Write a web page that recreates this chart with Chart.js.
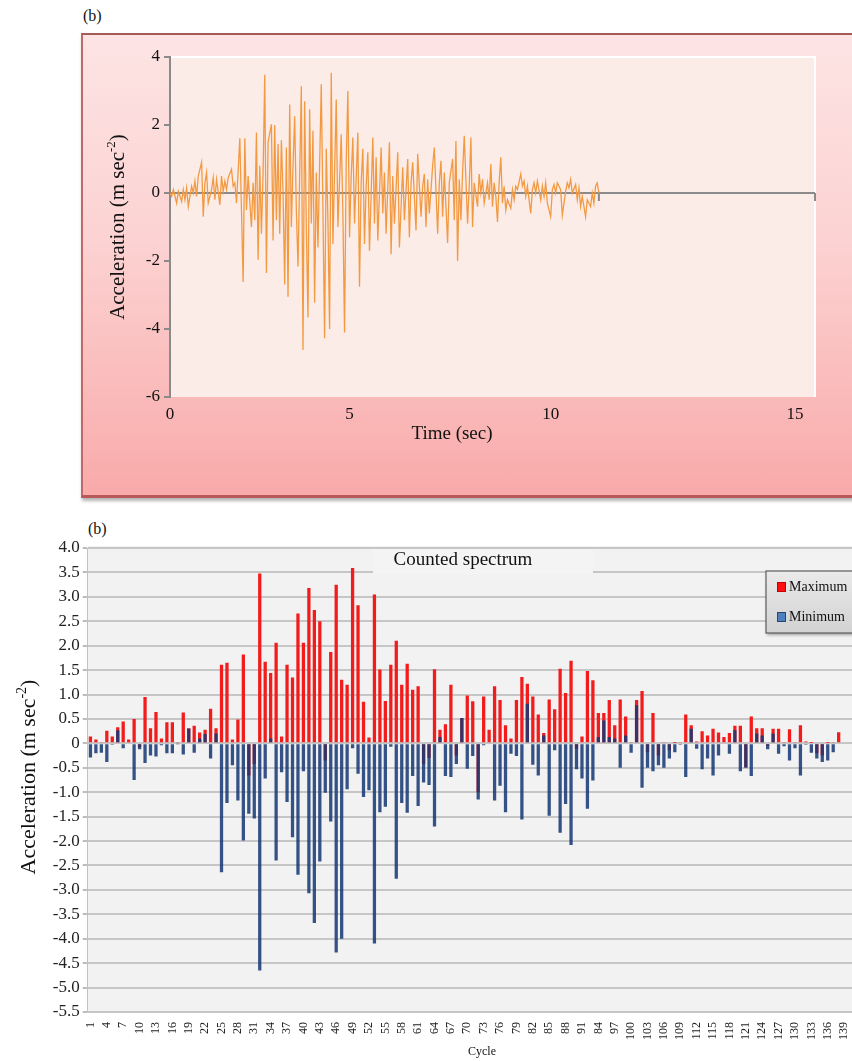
<!DOCTYPE html>
<html>
<head>
<meta charset="utf-8">
<script src="https://cdn.jsdelivr.net/npm/chart.js@4.4.1/dist/chart.umd.min.js"></script>
<style>
  html, body { margin: 0; padding: 0; width: 852px; height: 1061px; overflow: hidden; background: #fff; }
  #frame {
    position: absolute; left: 81px; top: 33px; width: 820px; height: 460px;
    background: linear-gradient(180deg, #fde4e4 0%, #fcd2d2 45%, #f9aaaa 100%);
    border-top: 2px solid #a65a55; border-left: 2px solid #c26868; border-bottom: 3px solid #b85858;
    box-shadow: 1px 3px 3px rgba(90, 90, 90, 0.45);
  }
  .tag { position: absolute; font-family: "Liberation Serif", serif; font-size: 16px; color: #111; line-height: 1; }
  #topWrap { position: absolute; left: 0; top: 0; width: 852px; height: 500px; }
  #botWrap { position: absolute; left: 0; top: 510px; width: 866px; height: 551px; }
</style>
</head>
<body>
<div id="frame"></div>
<div class="tag" style="left:83px; top:8px;">(b)</div>
<div class="tag" style="left:88px; top:521px;">(b)</div>
<div id="topWrap"><canvas id="accTrace"></canvas></div>
<div id="botWrap"><canvas id="cycleBars"></canvas></div>

<script>
// ---------- Ground-motion record (upper panel) ----------
// sample number of each turning point of the record, and its acceleration (m/s^2)
const traceAt = [
  0,1,2,4,5,7,8,9,10,11,13,14,15,16,17,19,20,21,22,23,25,26,27,28,30,31,32,33,34,35,
  37,38,39,40,42,44,45,46,47,49,50,51,52,53,54,55,56,57,58,59,61,62,63,64,65,66,67,68,69,70,
  71,72,73,74,75,76,77,78,79,80,81,82,83,84,85,86,87,88,89,91,92,93,94,95,96,97,98,100,101,103,
  104,105,106,107,108,109,110,111,113,114,115,116,117,118,119,120,122,123,124,125,127,128,129,130,132,133,134,135,137,138,
  140,141,143,144,145,146,148,149,151,152,153,154,155,156,158,159,161,162,163,164,165,166,167,168,170,171,172,173,174,175,
  176,177,179,180,181,182,183,185,186,187,188,189,191,192,193,194,195,196,197,198,199,200,201,202,203,205,206,207,208,209,
  211,212,213,214,215,217,218,219,220,221,223,224,225,226,227,229,230,231,232,233,235,236,238,239,240,241,242,244,245,246,
  247,248,250,251,253,254,255,256,257,258
];
const traceAcc = [
  0,-0.1,0.1,-0.3,0.05,-0.25,0.1,-0.2,0.15,-0.4,0.2,0,0.35,-0.1,0.5,0.9,-0.7,0.3,0.6,-0.3,0.1,0.45,-0.2,0.4,-0.35,0.5,0.05,0.35,0.1,0.45,
  0.7,0.2,0.3,-0.3,1.61,-2.62,1.61,-0.5,0.5,-1.0,0.3,-0.8,1.78,-1.96,0.8,-1.2,0.6,3.48,-2.35,1.5,2.02,-1.4,2.0,-0.8,1.44,-1.2,1.55,0.0,-2.69,1.34,
  -3.05,2.6,-1.0,0.8,2.26,-0.5,-2.16,0.5,3.14,-4.62,2.7,-1.0,-3.66,2.46,-0.9,1.83,-3.23,0.6,-1.6,3.2,-0.5,-4.27,1.3,-0.8,-4.0,3.54,-1.5,2.75,-1.0,1.73,
  -0.6,-4.1,0.9,3.0,-1.3,0.5,1.63,-0.9,1.78,-2.76,0.3,1.3,-1.5,0.2,1.2,-1.7,1.63,-0.9,1.05,-1.4,1.34,-0.6,0.6,-1.2,1.49,-1.8,0.5,-0.9,1.2,-1.6,
  0.76,-0.8,1.0,-1.3,0.3,0.9,-1.1,1.15,-0.7,0.2,0.56,-1.0,0.4,-0.6,0.8,1.34,-1.2,0.3,0.95,-0.7,0.6,-0.4,-1.47,0.3,1.0,-0.8,1.53,-2.0,0.4,-0.8,
  0.6,1.68,-0.9,0.2,1.63,-1.0,0.3,-0.4,0.56,0.0,0.4,-0.3,0.3,-0.2,0.85,-0.4,0.3,-0.1,-0.85,0.3,1.05,-0.3,0.2,-0.5,-0.2,-0.45,0.1,-0.2,0.2,0.1,
  0.56,0.2,0.35,-0.1,0.2,-0.6,0.1,0.3,0.0,0.35,-0.2,0.2,-0.1,0.3,-0.3,-0.7,0.1,0.25,0.0,0.3,0.1,-0.65,0.05,0.3,0.15,0.4,0.0,0.25,-0.2,0.15,
  -0.4,-0.1,-0.7,-0.2,-0.4,0.0,-0.3,0.2,0.3,0.0
];
const sampleAxisMax = 388;
const sampleTickAt = [0, 108, 229, 376];
const timeTickLabels = ['0', '5', '10', '15'];

// ---------- Counted spectrum (lower panel) ----------
const cycles = Array.from({ length: 140 }, (_, i) => String(i + 1));
const cycleTickText = ['1','4','7','10','13','16','19','22','25','28','31','34','37','40','43','46','49','52','55','58',
  '61','64','67','70','73','76','79','82','85','88','91','84','97','100','103','106','109','112','115','118',
  '121','124','127','130','133','136','139'];
const maxVals = [
  0.14,0.08,0.02,0.26,0.14,0.33,0.45,0.08,0.50,-0.08,
  0.95,0.31,0.64,0.10,0.43,0.43,0.03,0.63,0.31,0.36,
  0.22,0.28,0.71,0.31,1.61,1.65,0.08,0.49,1.82,-0.66,
  -0.42,3.48,1.67,1.44,2.06,0.14,1.61,1.35,2.66,2.06,
  3.18,2.73,2.50,-0.35,1.87,3.25,1.30,1.20,3.59,2.83,
  0.85,0.12,3.05,1.51,0.87,1.61,2.10,1.20,1.63,1.10,
  1.17,-0.42,-0.30,1.52,0.28,0.39,1.20,-0.25,0.52,0.98,
  0.86,-1.00,0.96,0.28,1.17,0.89,0.37,0.10,0.89,1.36,
  1.22,0.96,0.59,0.21,0.90,0.70,1.53,1.03,1.69,-0.11,
  0.14,1.48,1.29,0.62,0.62,0.89,0.37,0.90,0.55,0.03,
  0.89,1.07,-0.18,0.62,-0.25,0.02,-0.14,0.01,0.02,0.59,
  0.37,0.04,0.25,0.16,0.30,0.22,0.13,0.21,0.36,0.36,
  -0.49,0.55,0.31,0.31,-0.05,0.30,0.30,0.02,0.29,0.02,
  0.37,0.04,0.01,-0.20,-0.25,0.01,0.03,0.23,null,null
];
const minVals = [
  -0.29,-0.20,-0.19,-0.38,-0.03,0.27,-0.10,-0.02,-0.75,-0.12,
  -0.40,-0.25,-0.27,-0.04,-0.20,-0.20,-0.01,-0.23,0.30,-0.19,
  0.10,0.19,-0.31,0.20,-2.64,-1.22,-0.45,-1.17,-1.99,-1.44,
  -1.54,-4.65,-0.72,0.10,-2.40,-0.59,-1.20,-1.92,-2.69,-0.57,
  -3.07,-3.68,-2.42,-1.01,-1.60,-4.28,-4.00,-0.94,-0.10,-0.62,
  -1.10,-0.96,-4.10,-1.41,-1.30,-0.07,-2.77,-1.22,-1.42,-0.67,
  -1.28,-0.80,-0.85,-1.70,0.13,-0.67,-0.69,-0.42,0.52,-0.52,
  -0.26,-1.15,-0.04,-0.02,-1.17,-0.87,-1.41,-0.21,-0.26,-1.56,
  0.81,-0.44,-0.66,0.16,-1.48,-0.14,-1.83,-1.24,-2.08,-0.53,
  -0.72,-1.34,-0.76,0.13,0.47,0.13,0.10,-0.50,0.16,-0.19,
  0.78,-0.91,-0.50,-0.57,-0.45,-0.50,-0.31,-0.18,-0.03,-0.69,
  0.30,-0.11,-0.53,-0.31,-0.66,-0.25,-0.02,-0.21,0.27,-0.57,
  -0.50,-0.67,0.20,0.16,-0.12,0.20,-0.21,-0.06,-0.35,-0.10,
  -0.66,-0.03,-0.19,-0.31,-0.38,-0.35,-0.18,-0.02,null,null
];

const SERIF = '"Liberation Serif", "Times New Roman", serif';

// vertical axis title with the "-2" exponent raised
function drawAccelTitle(ctx, cx, cy, size) {
  const main = 'Acceleration (m sec', sup = '-2', tail = ')';
  ctx.save();
  ctx.translate(cx, cy);
  ctx.rotate(-Math.PI / 2);
  ctx.fillStyle = '#111';
  ctx.textBaseline = 'alphabetic';
  ctx.textAlign = 'left';
  const big = size + 'px ' + SERIF, small = Math.round(size * 0.62) + 'px ' + SERIF;
  ctx.font = big; const w1 = ctx.measureText(main).width; const w3 = ctx.measureText(tail).width;
  ctx.font = small; const w2 = ctx.measureText(sup).width;
  let x = -(w1 + w2 + w3) / 2;
  ctx.font = big; ctx.fillText(main, x, 0); x += w1;
  ctx.font = small; ctx.fillText(sup, x, -size * 0.42); x += w2;
  ctx.font = big; ctx.fillText(tail, x, 0);
  ctx.restore();
}

// ---------- upper panel ----------
const tracePanel = {
  id: 'tracePanel',
  beforeDraw(chart) {
    const { ctx, chartArea: a } = chart;
    ctx.save();
    ctx.fillStyle = '#fcece8';
    ctx.fillRect(a.left, a.top, a.right - a.left, a.bottom - a.top);
    ctx.strokeStyle = '#ffffff';
    ctx.lineWidth = 2;
    ctx.beginPath();
    ctx.moveTo(a.left, a.top); ctx.lineTo(a.right, a.top); ctx.lineTo(a.right, a.bottom);
    ctx.stroke();
    ctx.restore();
  },
  afterDraw(chart) {
    const { ctx, chartArea: a, scales } = chart;
    const y0 = scales.y.getPixelForValue(0);
    ctx.save();
    ctx.strokeStyle = '#8a8a8a';
    ctx.lineWidth = 2;
    const ends = [scales.x.getPixelForValue(traceAt[traceAt.length - 1]), a.right];
    ends.forEach(px => { ctx.beginPath(); ctx.moveTo(px, y0); ctx.lineTo(px, y0 + 8); ctx.stroke(); });
    ctx.fillStyle = '#111';
    ctx.font = '19px ' + SERIF;
    ctx.textAlign = 'center';
    ctx.textBaseline = 'middle';
    ctx.fillText('Time (sec)', a.left + 282, 434);
    ctx.restore();
    drawAccelTitle(ctx, 124, (a.top + a.bottom) / 2, 21);
  }
};

new Chart(document.getElementById('accTrace'), {
  type: 'line',
  data: {
    datasets: [{
      label: 'Acceleration',
      data: traceAt.map((n, i) => ({ x: n, y: traceAcc[i] })),
      borderColor: '#f29a42',
      borderWidth: 1.3,
      pointRadius: 0,
      tension: 0,
      fill: false
    }]
  },
  options: {
    responsive: true, maintainAspectRatio: false, animation: false,
    layout: { padding: { left: 100, top: 57, right: 37, bottom: 0 } },
    plugins: { legend: { display: false }, tooltip: { enabled: false } },
    scales: {
      x: {
        type: 'linear', min: 0, max: sampleAxisMax,
        afterBuildTicks: ax => { ax.ticks = sampleTickAt.map(v => ({ value: v })); },
        afterFit: ax => { ax.height = 103; },
        grid: { display: false }, border: { display: false },
        ticks: { autoSkip: false, maxRotation: 0, padding: -1, color: '#111',
                 font: { family: SERIF, size: 17 }, callback: (v, i) => timeTickLabels[i] }
      },
      y: {
        min: -6, max: 4,
        afterFit: ax => { ax.width = 70; },
        ticks: { stepSize: 2, padding: 4, color: '#111', font: { family: SERIF, size: 17 } },
        grid: { color: c => (c.tick && c.tick.value === 0 ? '#8a8a8a' : 'rgba(0,0,0,0)'),
                tickColor: '#8a8a8a', lineWidth: 2, tickLength: 6 },
        border: { display: true, color: '#8a8a8a', width: 2 }
      }
    }
  },
  plugins: [tracePanel]
});

// ---------- lower panel ----------
const spectrumPanel = {
  id: 'spectrumPanel',
  beforeDraw(chart) {
    const { ctx, chartArea: a } = chart;
    ctx.save();
    ctx.fillStyle = '#f2f2f2';
    ctx.fillRect(a.left, a.top - 2, a.right - a.left, a.bottom - a.top + 2);
    ctx.restore();
  },
  afterDraw(chart) {
    const { ctx, chartArea: a } = chart;
    ctx.save();
    // chart title on its own panel
    ctx.fillStyle = '#f4f4f4';
    ctx.fillRect(373, a.top + 1, 220, 25);
    ctx.fillStyle = '#111';
    ctx.font = '19px ' + SERIF;
    ctx.textAlign = 'center';
    ctx.textBaseline = 'alphabetic';
    ctx.fillText('Counted spectrum', 463, a.top + 17);

    // legend
    const lx = 766, ly = a.top + 23, lw = 110, lh = 62;
    ctx.shadowColor = 'rgba(0,0,0,0.35)'; ctx.shadowBlur = 3; ctx.shadowOffsetX = 1; ctx.shadowOffsetY = 2;
    const g = ctx.createLinearGradient(0, ly, 0, ly + lh);
    g.addColorStop(0, '#eaeaea'); g.addColorStop(1, '#d2d2d2');
    ctx.fillStyle = g;
    ctx.fillRect(lx, ly, lw, lh);
    ctx.shadowColor = 'transparent';
    ctx.strokeStyle = '#5e5e5e'; ctx.lineWidth = 1.2;
    ctx.strokeRect(lx, ly, lw, lh);
    const items = [
      { text: chart.data.datasets[1].label, fill: '#ff1010', edge: '#c00000' },
      { text: chart.data.datasets[0].label, fill: '#4f7fbd', edge: '#29466f' }
    ];
    ctx.font = '14px ' + SERIF;
    ctx.textAlign = 'left';
    ctx.textBaseline = 'middle';
    items.forEach((it, k) => {
      const yy = ly + 16 + k * 30;
      ctx.fillStyle = it.fill; ctx.fillRect(lx + 11, yy - 5, 9, 10);
      ctx.strokeStyle = it.edge; ctx.lineWidth = 1; ctx.strokeRect(lx + 11.5, yy - 4.5, 8, 9);
      ctx.fillStyle = '#111'; ctx.fillText(it.text, lx + 23, yy);
    });

    // axis titles
    ctx.font = '12px ' + SERIF;
    ctx.textAlign = 'center';
    ctx.fillText('Cycle', 482, 542);
    ctx.restore();
    drawAccelTitle(ctx, 35, 267, 22);
  }
};

new Chart(document.getElementById('cycleBars'), {
  type: 'bar',
  data: {
    labels: cycles,
    datasets: [
      { label: 'Minimum', data: minVals, backgroundColor: 'rgba(22,56,116,0.86)', order: 0 },
      { label: 'Maximum', data: maxVals, backgroundColor: '#f21c1c', order: 1 }
    ]
  },
  options: {
    responsive: true, maintainAspectRatio: false, animation: false,
    datasets: { bar: { grouped: false, barPercentage: 0.6, categoryPercentage: 1 } },
    layout: { padding: { left: 0, top: 38, right: 4, bottom: 0 } },
    plugins: { legend: { display: false }, tooltip: { enabled: false } },
    scales: {
      x: {
        afterFit: ax => { ax.height = 49; },
        grid: { display: false }, border: { display: false },
        ticks: { autoSkip: false, minRotation: 90, maxRotation: 90, padding: 2, color: '#222',
                 font: { family: SERIF, size: 12 },
                 callback: (v, i) => (i % 3 === 0 ? cycleTickText[i / 3] : '') }
      },
      y: {
        min: -5.5, max: 4,
        afterFit: ax => { ax.width = 87.7; },
        ticks: { stepSize: 0.5, padding: 3, color: '#222', font: { family: SERIF, size: 17 },
                 callback: v => (v === 0 ? '0' : v.toFixed(1)) },
        grid: { color: '#c6c6c6', lineWidth: 2, tickLength: 5, tickColor: '#bdbdbd' },
        border: { display: true, color: '#c2c2c2', width: 1 }
      }
    }
  },
  plugins: [spectrumPanel]
});
</script>
</body>
</html>
